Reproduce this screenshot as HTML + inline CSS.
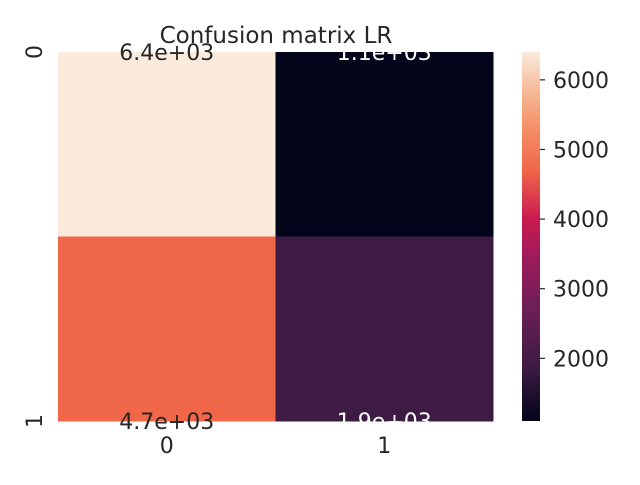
<!DOCTYPE html>
<html><head><meta charset="utf-8"><style>
body{margin:0;background:#fff;}
svg text{font-family:"DejaVu Sans","Liberation Sans",sans-serif;}
</style></head><body>
<svg width="640" height="480" xmlns="http://www.w3.org/2000/svg" id="chart">
<defs><linearGradient id="cbgrad" x1="0" y1="1" x2="0" y2="0"></linearGradient></defs>
<text x="276" y="43" text-anchor="middle" font-size="23" fill="#262626">Confusion matrix LR</text>
<g id="cells"></g><g id="annots"></g><g id="axes"></g><g id="cbar"></g>
</svg>
<script>
const rowLabels=["0","1"];
const colLabels=["0","1"];
const values=[[6400,1100],[4700,1900]];
const annotations=["6.4e+03","1.1e+03","4.7e+03","1.9e+03"];
const cbTicks=[2000,3000,4000,5000,6000];
const vmin=1100, vmax=6400;
const NS="http://www.w3.org/2000/svg";
const stops=[[0,"#03051a"],[0.15,"#3e1b44"],[0.3,"#6b1f56"],[0.45,"#a11a5b"],[0.55,"#cb1b4f"],[0.68,"#f06749"],[0.8,"#f4926a"],[0.9,"#f6bc99"],[1,"#faebdd"]];
function hex(c){return [1,3,5].map(i=>parseInt(c.substr(i,2),16));}
function cmap(v){let t=Math.max(0,Math.min(1,(v-vmin)/(vmax-vmin)));
 for(let i=1;i<stops.length;i++){if(t<=stops[i][0]){const a=hex(stops[i-1][1]),b=hex(stops[i][1]);const f=(t-stops[i-1][0])/(stops[i][0]-stops[i-1][0]);return "rgb("+a.map((x,k)=>Math.round(x+(b[k]-x)*f)).join(",")+")";}}
 return stops[stops.length-1][1];}
const X0=58,X1=493,Y0=52,Y1=421;
const cw=(X1-X0)/colLabels.length, rh=(Y1-Y0)/rowLabels.length;
function el(tag,attrs,parent){const e=document.createElementNS(NS,tag);for(const k in attrs)e.setAttribute(k,attrs[k]);document.getElementById(parent).appendChild(e);return e;}
values.forEach((row,i)=>row.forEach((v,j)=>{
 const r=el("rect",{x:X0+j*cw,y:Y0+i*rh,width:cw+0.5,height:rh+0.5,fill:cmap(v)},"cells");
 
 
 const t=el("text",{x:X0+(j+0.5)*cw,y:Y0+i*(Y1-Y0)+8,"text-anchor":"middle","font-size":"22",fill:(v-vmin)/(vmax-vmin)>0.5?"#262626":"#ffffff"},"annots");
 t.textContent=annotations[i*2+j];
 
 
}));
colLabels.forEach((c,j)=>{const t=el("text",{x:X0+(j+0.5)*cw,y:453,"text-anchor":"middle","font-size":"22",fill:"#262626"},"axes");t.textContent=c;
 
 });
rowLabels.forEach((c,i)=>{const y=Y0+i*(Y1-Y0);const t=el("text",{x:42,y:y,"text-anchor":"middle","font-size":"22",fill:"#262626",transform:"rotate(-90 42 "+y+")"},"axes");t.textContent=c;
 
 });
const g=document.getElementById("cbgrad");
stops.forEach(s=>{const st=document.createElementNS(NS,"stop");st.setAttribute("offset",s[0]);st.setAttribute("stop-color",s[1]);g.appendChild(st);});
const cb=el("rect",{x:522,y:Y0,width:18,height:Y1-Y0,fill:"url(#cbgrad)"},"cbar");


function cy(v){return Y1-(v-vmin)/(vmax-vmin)*(Y1-Y0);}
cbTicks.forEach(v=>{const y=cy(v);
 const l=el("line",{x1:540,x2:545,y1:y,y2:y,stroke:"#262626","stroke-width":"1.2"},"cbar");
 
 
 const t=el("text",{x:553,y:y+8,"font-size":"22",fill:"#262626"},"cbar");t.textContent=v;
 
 });
</script>
</body></html>
